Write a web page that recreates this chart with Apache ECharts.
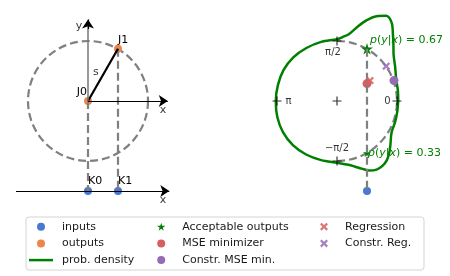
<!DOCTYPE html>
<html><head><meta charset="utf-8">
<script src="https://cdn.jsdelivr.net/npm/echarts@6/dist/echarts.min.js"></script>
<style>html,body{margin:0;padding:0;background:#fff}#c{width:450px;height:276px}</style>
</head><body><div id="c"></div>
<script>
// ---------------- data (unit circle radius = 1) ----------------
const leftInputs = [[0, -1.5], [0.5, -1.5]];
const leftInputNames = ['K0', 'K1'];
const leftOutputs = [[0, 0], [0.5, 0.87]];
const leftOutputNames = ['J0', 'J1'];
const rightInputs = [[0.5, -1.5]];
const acceptable = [[0.5, 0.87], [0.5, -0.87]];
const acceptableProb = [0.67, 0.33];
const mseMin = [[0.5, 0.29]];
const constrMseMin = [[0.95, 0.34]];
const regression = [[0.55, 0.34]];
const constrReg = [[0.82, 0.58]];
// polar density curve: angle (deg, CCW from +x) and radius
const densityAngles = [0, 10, 20, 30, 40, 45, 50, 55, 60, 65, 70, 75, 80, 85, 90, 105, 120, 135, 150, 165, 180,
  195, 210, 225, 240, 255, 270, 280, 285, 290, 295, 300, 305, 310, 315, 320, 330, 340, 350, 360];
const densityRadius = [1.02, 1.03, 1.05, 1.12, 1.23, 1.33, 1.45, 1.59, 1.64, 1.56, 1.43, 1.27, 1.13, 1.07, 1.03,
  1.02, 1.02, 1.03, 1.03, 1.02, 1.02, 1.03, 1.04, 1.04, 1.03, 1.02, 1.03, 1.08, 1.13, 1.2, 1.28, 1.32, 1.32,
  1.29, 1.23, 1.16, 1.05, 1.03, 1.02, 1.02];
const tickAngles = [90, 0, 270, 180];
const tickLabels = ['π/2', '0', '−π/2', 'π'];
const textLabels = [
  {name: 's', value: [0.13, 0.48]},
  {name: 'y', value: [-0.15, 1.25]},
  {name: 'x', value: [1.25, -0.15]},
  {name: 'x', value: [1.25, -1.65]}
];

// ---------------- styles ----------------
const FONT = 'DejaVu Sans';
const C = {blue: '#4878d0', orange: '#ee854a', green: '#008000', red: '#d65f5f', purple: '#956cb4', gray: '#808080'};
const STAR = 'path://M50,0 L61,35 L98,35 L68,57 L79,91 L50,70 L21,91 L32,57 L2,35 L39,35 Z';
const XMARK = 'path://M20,0 L50,30 L80,0 L100,20 L70,50 L100,80 L80,100 L50,70 L20,100 L0,80 L30,50 L0,20 Z';
const PLUS = 'path://M0,43.5 H100 V56.5 H0 Z M43.5,0 H56.5 V100 H43.5 Z';
const LINEICON = 'path://M0,0 H240 V25 H0 Z';
const DASH = {color: C.gray, width: 2.2, type: [8, 4]};

function seg(a, b, style, endSym) {
  return [{coord: a, symbol: 'none', lineStyle: style}, {coord: b, symbol: endSym || 'none'}];
}
function lineSeries(xi, segs) {
  return {type: 'line', xAxisIndex: xi, yAxisIndex: xi, data: [], z: 2, silent: true,
    markLine: {silent: true, symbolSize: 9, label: {show: false}, animation: false, data: segs}};
}
const J0 = leftOutputs[0], J1 = leftOutputs[1];
const blackL = {color: '#000', width: 1.2, type: 'solid'};

const leftSegs = [
  seg(J0, leftInputs[0], DASH),
  seg(J1, leftInputs[1], DASH),
  seg(J0, J1, {color: '#000', width: 2.2, type: 'solid'}),
  seg(J0, [1.33, 0], blackL, 'arrow'),
  seg(J0, [0, 1.28], {color: '#777', width: 1.5, type: 'solid'}),
  seg([0, 1.2], [0, 1.36], blackL, 'arrow'),
  seg([-1.2, -1.5], [1.355, -1.5], blackL, 'arrow')
];
const rightSegs = [
  seg(acceptable[0], rightInputs[0], DASH),
  seg([-1.22, -1.5], [1.345, -1.5], blackL, 'arrow')
];

const labelFont = {fontFamily: FONT, fontSize: 11, color: '#000'};
const axisHidden = {show: false};
function xA(i) { return {type: 'value', gridIndex: i, min: -1.2, max: 1.4, show: false}; }
function yA(i) { return {type: 'value', gridIndex: i, min: -1.7, max: 1.6, show: false}; }

const legendBase = {orient: 'vertical', itemWidth: 24, itemHeight: 8, itemGap: 4.7, top: 220.7, padding: 0,
  selectedMode: false,
  textStyle: {fontFamily: FONT, fontSize: 11, color: '#1a1a1a', lineHeight: 12, padding: [0, 0, 0, 4]}};

const option = {
  animation: false,
  backgroundColor: '#fff',
  graphic: [{type: 'rect', z: -1, shape: {x: 26, y: 217, width: 398, height: 53, r: 3},
    style: {fill: '#fff', stroke: '#d4d4d4', lineWidth: 1}}],
  legend: [
    Object.assign({}, legendBase, {left: 29, data: ['inputs', 'outputs', {name: 'prob. density', icon: LINEICON}]}),
    Object.assign({}, legendBase, {left: 157, data: ['Acceptable outputs', 'MSE minimizer', 'Constr. MSE min.']}),
    Object.assign({}, legendBase, {left: 320, data: ['Regression', 'Constr. Reg.']})
  ],
  grid: [
    {left: 16, top: 5, width: 156, height: 198},
    {left: 265, top: 5, width: 156, height: 198}
  ],
  xAxis: [xA(0), xA(1)],
  yAxis: [yA(0), yA(1)],
  polar: [
    {center: [337, 101], radius: 100},
    {center: [337, 101], radius: 60},
    {center: [88, 101], radius: 60}
  ],
  angleAxis: [
    {polarIndex: 0, type: 'value', min: 0, max: 360, startAngle: 0, clockwise: false, show: false},
    {polarIndex: 1, type: 'value', min: 0, max: 180, startAngle: 90, endAngle: -90, clockwise: true,
      axisLine: {show: true, lineStyle: DASH}, axisTick: axisHidden, axisLabel: axisHidden, splitLine: axisHidden},
    {polarIndex: 2, type: 'value', min: 0, max: 360,
      axisLine: {show: true, lineStyle: DASH}, axisTick: axisHidden, axisLabel: axisHidden, splitLine: axisHidden}
  ],
  radiusAxis: [
    {polarIndex: 0, min: 0, max: 100 / 60, show: false},
    {polarIndex: 1, min: 0, max: 1, show: false},
    {polarIndex: 2, min: 0, max: 1, show: false}
  ],
  series: [
    lineSeries(0, leftSegs),
    lineSeries(1, rightSegs),
    {name: 'inputs', type: 'scatter', xAxisIndex: 0, yAxisIndex: 0, z: 4, symbolSize: 8,
      itemStyle: {color: C.blue, opacity: 1},
      data: leftInputs.map((v, i) => ({name: leftInputNames[i], value: v})),
      label: Object.assign({show: true, formatter: '{b}', position: 'right', distance: 0, offset: [-4, -10]}, labelFont)},
    {name: 'outputs', type: 'scatter', xAxisIndex: 0, yAxisIndex: 0, z: 4, symbolSize: 8,
      itemStyle: {color: C.orange, opacity: 1},
      data: [
        {name: leftOutputNames[0], value: leftOutputs[0],
          label: {position: 'left', distance: 0, offset: [3, -9]}},
        {name: leftOutputNames[1], value: leftOutputs[1],
          label: {position: 'right', distance: 0, offset: [-4, -9]}}
      ],
      label: Object.assign({show: true, formatter: '{b}'}, labelFont)},
    {name: 'texts', type: 'scatter', xAxisIndex: 0, yAxisIndex: 0, z: 4, symbolSize: 0, silent: true,
      data: textLabels, label: Object.assign({show: true, formatter: '{b}', position: 'inside'}, labelFont)},
    {name: 'prob. density', type: 'line', coordinateSystem: 'polar', polarIndex: 0, z: 3, symbol: 'none',
      smooth: 0.3, clip: false, lineStyle: {color: C.green, width: 2.5}, itemStyle: {color: C.green},
      data: densityRadius.map((r, i) => [r, densityAngles[i]])},
    {name: 'ticks', type: 'scatter', coordinateSystem: 'polar', polarIndex: 0, z: 4, symbol: PLUS, symbolSize: 9,
      silent: true, itemStyle: {color: '#000'},
      data: tickAngles.map((a, i) => {
        const pos = [{position: 'bottom', distance: 2, offset: [-4, 0]}, {position: 'left', distance: 2},
          {position: 'top', distance: 3}, {position: 'right', distance: 4}][i];
        return {name: tickLabels[i], value: [1, a], label: pos};
      }).concat([{name: '', value: [0, 0]}]),
      label: {show: true, formatter: '{b}', fontFamily: FONT, fontSize: 10, color: '#000'}},
    {name: 'inputs', type: 'scatter', xAxisIndex: 1, yAxisIndex: 1, z: 4, symbolSize: 8,
      itemStyle: {color: C.blue, opacity: 1}, data: rightInputs},
    {name: 'Acceptable outputs', type: 'scatter', xAxisIndex: 1, yAxisIndex: 1, z: 4, symbol: STAR,
      symbolKeepAspect: true, itemStyle: {color: C.green, opacity: 1},
      data: acceptable.map((v, i) => ({value: v, symbolSize: i === 0 ? 12 : 8,
        label: {offset: i === 0 ? [-3, -9] : [-3, 0]}})),
      label: {show: true, position: 'right', distance: 0, color: C.green, fontFamily: FONT, fontSize: 11,
        formatter: p => '{i|p}({i|y}|{i|x}) = ' + acceptableProb[p.dataIndex].toFixed(2),
        rich: {i: {fontStyle: 'italic', color: C.green, fontFamily: FONT, fontSize: 11}}}},
    {name: 'MSE minimizer', type: 'scatter', xAxisIndex: 1, yAxisIndex: 1, z: 4, symbolSize: 9,
      itemStyle: {color: C.red, opacity: 1}, data: mseMin},
    {name: 'Constr. MSE min.', type: 'scatter', xAxisIndex: 1, yAxisIndex: 1, z: 4, symbolSize: 9,
      itemStyle: {color: C.purple, opacity: 1}, data: constrMseMin},
    {name: 'Regression', type: 'scatter', xAxisIndex: 1, yAxisIndex: 1, z: 5, symbol: XMARK, symbolSize: 8,
      symbolKeepAspect: true, itemStyle: {color: C.red, opacity: 0.85}, data: regression},
    {name: 'Constr. Reg.', type: 'scatter', xAxisIndex: 1, yAxisIndex: 1, z: 5, symbol: XMARK, symbolSize: 8,
      symbolKeepAspect: true, itemStyle: {color: C.purple, opacity: 0.85}, data: constrReg}
  ]
};
const chart = echarts.init(document.getElementById('c'), null, {renderer: 'canvas'});
chart.setOption(option);
</script>
</body></html>
